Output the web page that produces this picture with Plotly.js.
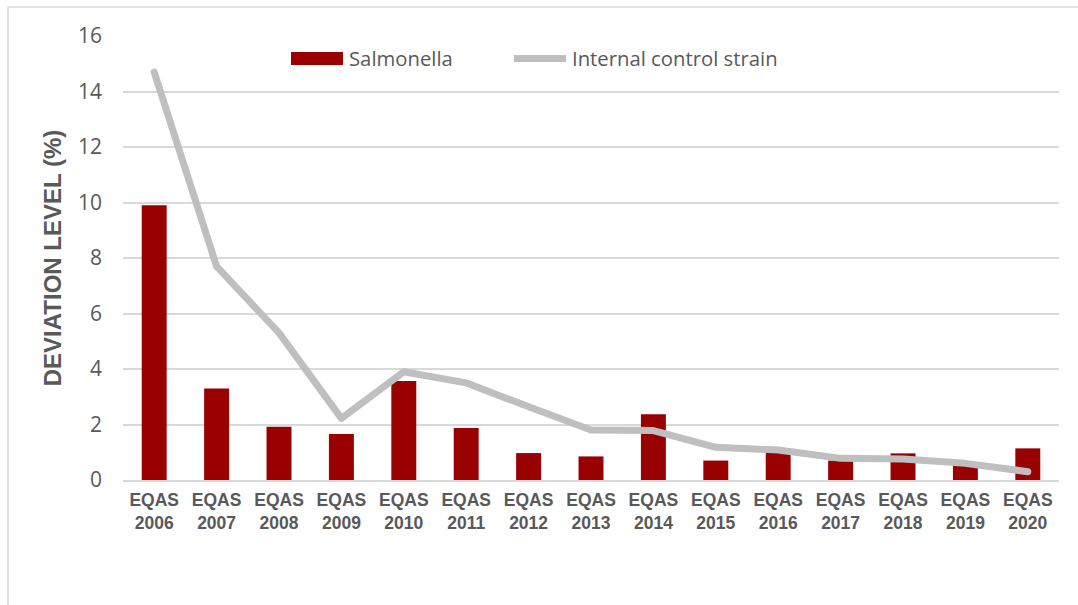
<!DOCTYPE html>
<html>
<head>
<meta charset="utf-8">
<script src="https://cdn.plot.ly/plotly-3.0.1.min.js"></script>
<style>html,body{margin:0;padding:0;background:#fff;}#chart{width:1078px;height:605px;}
#chart .scatterlayer path.js-line{stroke-linecap:round;stroke-linejoin:round;}</style>
</head>
<body>
<div id="chart"></div>
<script>
const categories = ["EQAS<br>2006","EQAS<br>2007","EQAS<br>2008","EQAS<br>2009","EQAS<br>2010","EQAS<br>2011","EQAS<br>2012","EQAS<br>2013","EQAS<br>2014","EQAS<br>2015","EQAS<br>2016","EQAS<br>2017","EQAS<br>2018","EQAS<br>2019","EQAS<br>2020"];
const salmonella = [9.9, 3.3, 1.92, 1.66, 3.57, 1.87, 0.97, 0.85, 2.37, 0.7, 1.0, 0.7, 0.96, 0.54, 1.14];
const internalControl = [14.7, 7.7, 5.3, 2.22, 3.9, 3.5, 2.64, 1.8, 1.78, 1.18, 1.08, 0.78, 0.76, 0.6, 0.3];
const yTicks = [0, 2, 4, 6, 8, 10, 12, 14, 16];
const seriesNames = ["Salmonella", "Internal control strain"];
const barColor = "#990000";
const lineColor = "#BFBFBF";

const traces = [
  {type: "bar", name: seriesNames[0], x: categories, y: salmonella,
   marker: {color: barColor}},
  {type: "scatter", mode: "lines", name: seriesNames[1], x: categories, y: internalControl,
   line: {color: lineColor, width: 7}}
];

// paper-coordinate helpers for the frame & legend (plot area: x 123..1059, y 36..480)
const px = v => (v - 123) / 936;
const py = v => (480 - v) / 444;

const legendFont = {family: "Open Sans, Noto Sans, sans-serif", size: 20.3, color: "#595959"};

const layout = {
  width: 1078, height: 605,
  margin: {l: 123, r: 19, t: 36, b: 125},
  paper_bgcolor: "#fff", plot_bgcolor: "#fff",
  bargap: 0.6,
  showlegend: false,
  xaxis: {type: "category", showgrid: false, zeroline: false,
    showline: true, linecolor: "#D9D9D9", linewidth: 2,
    tickfont: {family: "Liberation Sans, Arial, sans-serif", size: 17.5, color: "#595959", weight: "bold"},
    ticks: "", ticklabelstandoff: 3},
  yaxis: {range: [0, 16], tickvals: yTicks, showgrid: true, gridcolor: "#D9D9D9", gridwidth: 2,
    zeroline: false, showline: false, ticks: "",
    tickfont: {family: "Open Sans, Noto Sans, sans-serif", size: 21, color: "#595959"},
    ticklabelstandoff: 20,
    title: {text: "DEVIATION LEVEL (%)", standoff: 9,
      font: {family: "Liberation Sans, Arial, sans-serif", size: 24, color: "#595959", weight: "bold"}}},
  shapes: [
    {type: "line", xref: "paper", yref: "paper", x0: px(8), x1: px(8), y0: py(7), y1: -0.3,
     line: {color: "#D9D9D9", width: 1.5}},
    {type: "line", xref: "paper", yref: "paper", x0: px(8), x1: 1.1, y0: py(7), y1: py(7),
     line: {color: "#D9D9D9", width: 1.5}},
    {type: "rect", xref: "paper", yref: "paper", x0: px(291), x1: px(343), y0: py(65), y1: py(52),
     fillcolor: barColor, line: {width: 0}},
    {type: "line", xref: "paper", yref: "paper", x0: px(514), x1: px(566), y0: py(58.5), y1: py(58.5),
     line: {color: lineColor, width: 7}}
  ],
  annotations: [
    {xref: "paper", yref: "paper", x: px(347), y: py(58), xanchor: "left", yanchor: "middle",
     text: seriesNames[0], showarrow: false, font: legendFont},
    {xref: "paper", yref: "paper", x: px(570), y: py(58), xanchor: "left", yanchor: "middle",
     text: seriesNames[1], showarrow: false, font: legendFont}
  ]
};

Plotly.newPlot("chart", traces, layout, {displayModeBar: false, staticPlot: true});
</script>
</body>
</html>
